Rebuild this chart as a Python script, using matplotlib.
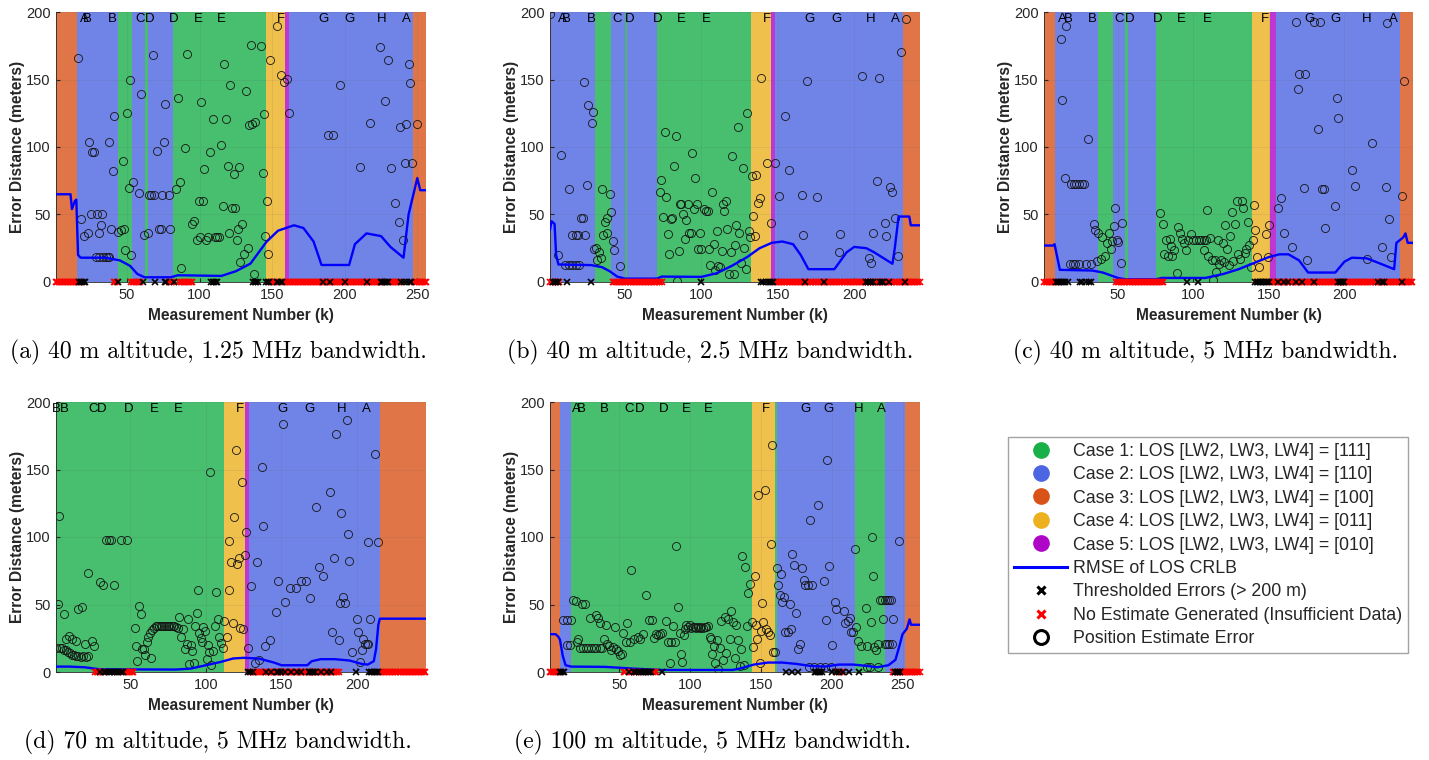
import matplotlib
matplotlib.use("Agg")
import matplotlib.pyplot as plt
from matplotlib.lines import Line2D

# ---------------------------------------------------------------- colours
CASE_COLORS = {1: "#19B04A", 2: "#4C65E2", 3: "#D95319", 4: "#EDB120", 5: "#AE05C7"}
CASE_LABELS = [
    "Case 1: LOS [LW2, LW3, LW4] = [111]",
    "Case 2: LOS [LW2, LW3, LW4] = [110]",
    "Case 3: LOS [LW2, LW3, LW4] = [100]",
    "Case 4: LOS [LW2, LW3, LW4] = [011]",
    "Case 5: LOS [LW2, LW3, LW4] = [010]",
]

# ---------------------------------------------------------------- panel (a)
A_XMAX = 256
A_CASES = [(0.5, 15.5, 3), (15.5, 43.7, 2), (43.7, 53.6, 1), (53.6, 62.6, 2), (62.6, 64.5, 1),
           (64.5, 81.5, 2), (81.5, 145.7, 1), (145.7, 158.8, 4), (158.8, 161.8, 5),
           (161.8, 247, 2), (247, 256, 3)]
A_LETTERS = [(20.4, "A"), (22.7, "B"), (40, "B"), (59, "C"), (65.9, "D"), (82, "D"), (99.3, "E"),
             (115, "E"), (156, "F"), (185.3, "G"), (203.4, "G"), (225.3, "H"), (242.3, "A")]
A_RMSE_X = [1, 11, 12, 14, 15, 16.2, 18, 35, 45, 52, 57, 62, 80, 85, 115, 125, 135, 146, 154,
            165, 171.5, 178.5, 184, 203, 207, 215, 225, 231.5, 240.5, 244, 250, 252, 256]
A_RMSE_Y = [65, 65, 54, 60, 61, 20, 18, 18, 16, 12, 6, 3.5, 3.5, 5, 4.5, 8, 13.6, 29.7, 38,
            42, 40, 30, 12.6, 12.6, 28, 36, 34, 26, 18, 50, 77, 68, 68]
A_POINTS = [(16, 166), (18.3, 47), (20.4, 34), (23.2, 36.4), (23.9, 104), (25.7, 96.5), (27.3, 96.5),
            (25, 50.5), (29, 50.5), (33, 50.5), (28.5, 18.3), (30.3, 36.4), (32, 42), (30.8, 18.3),
            (33.6, 18.3), (35.4, 18.3), (36.6, 18.3), (37.7, 18.3), (37.7, 104), (39, 39.6),
            (40, 82.4), (41.2, 123), (43.9, 37), (45.8, 38.4), (47.4, 89.6), (48.1, 39.6), (48.8, 24),
            (49.9, 125), (51, 69.8), (52.2, 150), (52.9, 19.8), (54.3, 74.3), (58, 66), (59.9, 139),
            (61.5, 35), (64.3, 36), (64.9, 64.4), (66.6, 64.4), (68.2, 64.4), (67.9, 168),
            (70.7, 97.3), (71.9, 38.9), (73.2, 38.9), (74.2, 64.4), (75.1, 103.7), (75.8, 132),
            (79.2, 64.4), (79.9, 38.9), (83.8, 68.6), (85.2, 136), (86.2, 74.3), (86.9, 10),
            (90, 99.5), (91.2, 169), (94.9, 42.8), (96, 45.3), (98.2, 31.4), (99.3, 60), (100, 33),
            (101, 133), (102.3, 60), (103, 84), (104.6, 31.4), (105.7, 33), (106.9, 96.5),
            (109.2, 120.8), (110.4, 33), (112, 33), (113.4, 33), (115, 101.5), (116.1, 56.2),
            (117.1, 161.4), (118.2, 120.5), (119.4, 86), (120.3, 36), (121.2, 146), (122.2, 54.5),
            (123.5, 79.7), (124.2, 54.5), (125.4, 31), (126.3, 39.4), (127.2, 85.4), (128.1, 14.6),
            (129.5, 43.3), (130.7, 21), (131.8, 141.6), (133, 25.2), (134.2, 116.3), (135.1, 175.7),
            (136, 117), (137.4, 6.2), (138.3, 118.8), (142.2, 174.5), (143.4, 80.4), (144.1, 124.3),
            (145, 34.2), (146.2, 60), (147.3, 20.5), (148.4, 164.6), (153.1, 190), (156.1, 153.2),
            (158.2, 148.3), (160.2, 150.5), (161.4, 125), (188.8, 109.2), (191.6, 109.2),
            (196.9, 146), (210.3, 85.4), (217.2, 118), (224.1, 174), (228, 134.4), (229.9, 164.6),
            (232.2, 84.6), (234.9, 58.7), (237.3, 44.6), (238.2, 114.9), (240.3, 31), (241.2, 88.4),
            (242.4, 117), (244.2, 161.6), (245.3, 147.3), (246.5, 88.4), (249.5, 117)]
A_BLACK = [17, 18, 19, 20, 21, 44, 61, 69, 76, 77, 82, 108, 109, 110, 111, 112, 137, 138, 139, 140,
           146, 147, 148, 153, 154, 156, 157, 185, 190, 200, 215, 225, 226, 227, 228, 229, 230,
           239, 241, 243, 245, 246]
A_RED = [(1, 17), (41, 43), (53, 59), (79, 81), (86, 90), (92, 95), (149, 152), (158, 226),
         (231, 238), (248, 256)]

# ---------------------------------------------------------------- panel (b)
B_XMAX = 243
B_CASES = [(0.5, 1.5, 3), (1.5, 30.6, 2), (30.6, 40.6, 1), (40.6, 50, 2), (50, 51.3, 1),
           (51.3, 70.7, 2), (70.7, 132.4, 1), (132.4, 145.7, 4), (145.7, 148.4, 5),
           (148.4, 231.7, 2), (231.7, 243, 3)]
B_LETTERS = [(9.2, "A"), (11.8, "B"), (28.2, "B"), (44.7, "C"), (53.2, "D"), (71.4, "D"), (87, "E"),
             (103, "E"), (142.7, "F"), (170.6, "G"), (188.7, "G"), (211, "H"), (227, "A")]
B_RMSE_X = [1, 2, 4, 5, 6.5, 28, 35, 40, 45, 50, 71, 74, 100, 110, 120, 130, 138, 146, 153, 160,
            165, 170, 187, 195, 200, 208, 213, 225, 226.5, 229, 236, 237, 243]
B_RMSE_Y = [39, 45, 43, 20, 13, 12.5, 11, 8, 4, 2.5, 2.5, 4, 3.8, 6.5, 12, 18.5, 25, 29, 30, 28,
            20, 9.5, 9.5, 22, 26, 25, 22, 13.5, 25, 48.5, 48.5, 42, 42]
B_POINTS = [(1.2, 198.5), (6.4, 19.9), (8.1, 94.4), (13.1, 69), (10.9, 12.9), (13.1, 12.9),
            (15.3, 12.9), (17.9, 12.9), (20.1, 12.9), (15.7, 34.8), (17.9, 34.8), (19.4, 34.8),
            (21.2, 47.2), (22.3, 47.2), (23.2, 148), (24, 34.8), (25.1, 72), (26, 131), (28.2, 117.8),
            (29.3, 126), (29.5, 24.8), (31, 25.3), (31.7, 16.6), (32.8, 21.9), (34.3, 17.9), (35, 69),
            (35.4, 34.8), (36.7, 44.7), (38.2, 36), (38.6, 47.2), (40.2, 65.3), (41.1, 51.9),
            (42.1, 30), (43, 23.4), (46.9, 11.9), (72.9, 66.3), (73.9, 75.3), (74.8, 48.2),
            (75.9, 111), (77, 62.6), (78.1, 35.5), (79, 21.1), (80, 46.7), (81.1, 47.5), (82, 85.7),
            (83.1, 107.8), (84, 0.7), (85.1, 23.1), (85.9, 57.9), (87, 57.9), (88.1, 50.7),
            (89.2, 31.8), (90.1, 46), (91, 57.9), (92.1, 36), (93, 36), (93.9, 95.2), (95, 53.9),
            (96, 77.3), (97, 57.9), (97.8, 24.1), (98.8, 36), (99.9, 24.1), (101.7, 53.9),
            (103.2, 52.7), (104.3, 52.7), (105.2, 24.8), (105.8, 12.4), (106.9, 66.3), (108, 27.8),
            (109.1, 8.7), (110.2, 37.8), (111, 12.2), (112.1, 11.2), (113.2, 22.6), (113.9, 57.9),
            (115, 52.7), (116.1, 60.1), (117, 39), (118, 5.7), (119.1, 22.4), (120, 93.4),
            (121.1, 5.7), (122, 27.3), (122.9, 42.2), (124, 114.8), (124.8, 36), (126, 14.2),
            (127, 84.5), (128.1, 25.3), (129.2, 9.7), (129.8, 125.5), (130.9, 37.8), (131.9, 33),
            (133.1, 78.3), (134, 49.2), (135.3, 34.3), (136, 79), (137, 58.6), (138.1, 62.1),
            (139, 151), (142.9, 88), (145.7, 44), (147.9, 88), (150.8, 63.6), (154.9, 123.2),
            (157.1, 82.7), (165.8, 64.3), (166.7, 34.8), (169.1, 148.8), (175.9, 63.1), (189.8, 21.9),
            (190.9, 35.3), (205.1, 152.3), (209.9, 18.1), (211.2, 14.4), (212.1, 36.5), (215, 74.5),
            (216, 151.3), (220, 43.5), (220.8, 34.3), (223.7, 70), (224.8, 66.3), (226.7, 47.2),
            (228.7, 19.1), (230.8, 170.2), (233.9, 194.5)]
B_BLACK = [3, 4, 5, 6, 12, 28, 100, 139, 140, 142, 144, 145, 146, 147, 168, 180, 208, 209, 210,
           211, 212, 217, 218, 219, 223, 233]
B_RED = [(1, 7), (42, 74), (148, 243)]

# ---------------------------------------------------------------- panel (c)
C_XMAX = 245.5
C_CASES = [(0.5, 8.2, 3), (8.2, 36.5, 2), (36.5, 46.5, 1), (46.5, 54.4, 2), (54.4, 56.7, 1),
           (56.7, 75.5, 2), (75.5, 138.6, 1), (138.6, 150.7, 4), (150.7, 154.7, 5),
           (154.7, 236.6, 2), (236.6, 245.5, 3)]
C_LETTERS = [(13.5, "A"), (16.8, "B"), (33, "B"), (51.1, "C"), (58, "D"), (76.1, "D"), (92, "E"),
             (108.9, "E"), (147.6, "F"), (176.8, "G"), (194.1, "G"), (214.9, "H"), (232.2, "A")]
C_RMSE_X = [1, 7, 8, 11.5, 33, 40, 45, 50, 55, 75, 79, 108, 120, 130, 140, 150, 157, 163, 170, 176,
            194, 200, 205, 215, 223, 233, 234.5, 239, 240.5, 242, 245.5]
C_RMSE_Y = [27, 27, 28, 9, 8.5, 7, 5, 3, 2, 2, 3, 3, 6, 9.5, 14, 18.5, 20.5, 20.5, 16, 7,
            7, 15, 18, 17.5, 14, 9.5, 29, 33, 36, 29, 29]
C_POINTS = [(12, 180), (13.1, 134.9), (14.8, 77.2), (15.9, 189.9), (18.6, 72.3), (20.8, 72.3),
            (22.4, 72.3), (24.1, 72.3), (25.9, 72.3), (27.4, 72.3), (18.1, 13.6), (20.1, 13.6),
            (21.7, 13.6), (24.1, 13.6), (28.6, 13.6), (32.3, 13.6), (29.9, 105.7), (33.9, 43.1),
            (34.8, 38.4), (35.9, 15.3), (37, 36.6), (38.5, 17.1), (39.6, 33.4), (41.4, 19.1),
            (42.5, 29.2), (44.3, 36.4), (45.2, 24.8), (45.8, 30.4), (47.4, 41.3), (48, 55),
            (49.4, 30.9), (50.2, 29.7), (51.8, 14.1), (52.9, 43.8), (77.9, 51.2), (79.9, 42.8),
            (80.4, 21), (82.1, 31.4), (83, 19.6), (84.3, 32.2), (85.2, 26.5), (86.1, 19.6),
            (87.4, 23.5), (88.8, 6.7), (89.6, 40.8), (90.9, 36.4), (92.3, 31.7), (93.8, 29),
            (95, 24), (96.7, 31.4), (98.7, 35.9), (99.8, 31.4), (101.6, 31.4), (103.4, 31.4),
            (105.1, 31.4), (106.9, 31.4), (108.2, 31.4), (106.7, 24), (108.9, 53.2), (109.8, 19.1),
            (110.9, 32.7), (112.2, 16.6), (113.1, 1.7), (114, 16.6), (114.9, 7.4), (116, 31.4),
            (117.1, 13.6), (118.4, 16.1), (119.3, 29), (120.4, 14.9), (121.1, 42.1), (122.2, 24.3),
            (123.3, 12.9), (124.4, 33.9), (125.5, 51.5), (126.4, 15.6), (127.5, 43.3), (128.6, 60.1),
            (129.5, 21), (130.6, 17.1), (131.9, 60.1), (132.8, 54.5), (133.9, 21.8), (134.8, 24.3),
            (136.1, 44.6), (137, 27.2), (138.1, 11.1), (139.2, 30.9), (140.1, 57.4), (141, 38.4),
            (142.1, 18.6), (143.2, 11.1), (148.1, 35.9), (150.3, 42.1), (149.2, 18.6), (156.3, 54.5),
            (158, 62.4), (160.2, 36.6), (165.1, 26), (168, 192.3), (169.1, 142.8), (170.2, 154),
            (173.1, 69.8), (174.2, 154), (175.1, 16.1), (179.7, 192.3), (182.4, 113.4),
            (183.9, 192.3), (185, 69.1), (186.4, 69.1), (187.2, 40.1), (193.9, 56.2), (195, 136.6),
            (196.1, 121.8), (205.2, 82.9), (207.2, 71), (214.9, 17.1), (218.2, 103.2), (225.1, 25.7),
            (227.3, 70.5), (228.2, 191.8), (229.3, 46.3), (231.1, 18.3), (238.2, 63.6), (239.3, 149)]
C_BLACK = [9, 10, 11, 12, 13, 14, 15, 17, 25, 26, 29, 31, 32, 96, 103, 141, 142, 143, 144, 145, 146,
           147, 148, 149, 150, 156, 160, 163, 168, 172, 180, 196, 197, 198, 199, 200, 222, 225, 226,
           238]
C_RED = [(1, 9), (49, 80), (151, 245)]

# ---------------------------------------------------------------- panel (d)
D_XMAX = 245.5
D_CASES = [(0.5, 112.3, 1), (112.3, 125.6, 4), (125.6, 128.5, 5), (128.5, 215.4, 2),
           (215.4, 245.5, 3)]
D_LETTERS = [(1.1, "B"), (6.5, "B"), (25.7, "C"), (31.5, "D"), (48.9, "D"), (65.9, "E"),
             (82.1, "E"), (122.7, "F"), (150.8, "G"), (168.3, "G"), (190.1, "H"), (206.3, "A")]
D_RMSE_X = [1, 10, 20, 30, 80, 90, 100, 110, 118, 125, 135, 145, 150, 167, 170, 176, 185, 195, 203,
            207, 211, 212.5, 214, 215, 245.5]
D_RMSE_Y = [4, 4, 3.5, 2, 1.8, 2.5, 5, 7.5, 10, 10.5, 10, 7, 5, 5, 8, 9.5, 9.5, 8.5, 6,
            5.5, 8, 17, 35, 39.5, 39.5]
D_POINTS = [(0.7, 18.1), (2, 50.7), (2.9, 115.8), (3.6, 17.8), (5.2, 17.8), (6.5, 16.6), (7.8, 16.1),
            (9, 14.9), (10, 14.1), (11.4, 12.9), (12.9, 12.4), (14.4, 11.9), (15.8, 11.6),
            (17.5, 11.4), (19.1, 11.6), (21, 11.1), (22.4, 11.6), (6.3, 42.6), (7.3, 24.8),
            (9.5, 26.7), (11.4, 24.8), (14, 22.8), (15.8, 46.3), (17.9, 47.8), (20.2, 21), (22, 73.5),
            (25, 22.8), (26.1, 19.1), (29.9, 66.6), (32.1, 64.6), (34.3, 97.5), (36.1, 97.5),
            (37.6, 97.5), (39, 64.6), (43.8, 97.5), (48.2, 97.5), (52.9, 32.7), (53.8, 19.1),
            (54.7, 8.2), (55.8, 48.8), (56.9, 43.3), (58.1, 17.3), (59.2, 17.3), (59.9, 12.4),
            (61, 22.3), (62.1, 26), (63.2, 29), (63.8, 10.4), (64.7, 31), (65.8, 32.7), (66.9, 34),
            (68, 34), (69.1, 34), (70.2, 34), (71.3, 34), (72.4, 34), (73.5, 34), (74.7, 34),
            (75.8, 34), (76.9, 34), (78, 34), (79.1, 34), (80.2, 33.2), (81.3, 32.5), (82.5, 40.8),
            (83.8, 26), (85.2, 31.7), (86.5, 17.3), (87.4, 21), (88.1, 39.6), (89.2, 5.7),
            (90.2, 19.8), (90.9, 15.6), (92, 6.7), (92.9, 33.9), (94, 43.8), (95.1, 61.1),
            (95.8, 29.2), (96.8, 25.5), (97.5, 22.3), (98.4, 33.4), (99.7, 30.4), (100.6, 9.7),
            (101.3, 19.8), (101.9, 14.9), (102.8, 148), (103.7, 5), (105, 15.3), (105.9, 34.2),
            (106.8, 59.4), (107.9, 39.6), (109, 26), (110.1, 21.5), (111.2, 18.1), (112.3, 37.6),
            (113.9, 26), (115, 97.3), (115.6, 61.1), (116.5, 81.7), (117.9, 36.4), (118.7, 114.6),
            (119.8, 164.1), (120.9, 79.7), (121.8, 84.7), (122.7, 32.9), (123.6, 140.6), (124.7, 31.7),
            (125.8, 86.4), (126.7, 104), (127.8, 17.8), (130, 63.6), (132.4, 6.7), (133.8, 81.7),
            (135.1, 8.7), (137.1, 152.2), (137.8, 108.4), (138.9, 19.3), (142.6, 23.5), (146.6, 44.6),
            (148, 67.3), (150.8, 183.4), (152.6, 51.5), (155.9, 62.4), (159.9, 62.4), (162.8, 67.3),
            (165.9, 67.3), (168.7, 55), (172.7, 122.5), (175, 78), (177.6, 71), (182, 133.4),
            (183.5, 29.7), (184.8, 84.2), (185.9, 176.2), (187.9, 23.5), (189.5, 118), (188.8, 51.2),
            (190.8, 55.2), (192.3, 51.2), (193, 186.4), (193.7, 102.2), (194.8, 82.4), (196.3, 14.9),
            (199.6, 39.6), (200.8, 29.7), (201.9, 7.4), (203, 16.1), (204.1, 24.8), (205.2, 21),
            (206.3, 21), (207.4, 21), (207.4, 96.5), (208.5, 39.6), (211.8, 161.6), (213.6, 96.5)]
D_BLACK = [30, 33, 34, 36, 37, 38, 39, 40, 41, 42, 44, 45, 128, 129, 131, 140, 143, 147, 148, 150,
           152, 156, 160, 163, 168, 169, 170, 171, 172, 176, 180, 183, 199, 208, 209, 210, 211, 212,
           213, 214]
D_RED = [(27, 32), (46, 52), (130, 136), (138, 188), (215, 245)]

# ---------------------------------------------------------------- panel (e)
E_XMAX = 262
E_CASES = [(0.5, 7.8, 3), (7.8, 16, 2), (16, 143.8, 1), (143.8, 159.6, 4), (159.6, 161.3, 1),
           (161.3, 216.1, 2), (216.1, 237.8, 1), (237.8, 251.9, 2), (251.9, 262, 3)]
E_LETTERS = [(20, "A"), (23.1, "B"), (39.1, "B"), (57.2, "C"), (64.3, "D"), (81.2, "D"), (97.2, "E"),
             (113, "E"), (153.2, "F"), (181.3, "G"), (198, "G"), (219.2, "H"), (235.4, "A")]
E_RMSE_X = [1, 5, 7, 8, 10, 12, 16, 40, 60, 80, 130, 135, 145, 155, 165, 175, 185, 195, 205, 215,
            225, 232, 240, 245, 248, 250, 253, 255, 256, 262]
E_RMSE_Y = [28, 28, 26, 24, 12, 5, 4, 3.8, 2.5, 1.5, 1.5, 2.5, 5.5, 7, 7, 6, 4.5, 4, 5.5, 5.5,
            4.5, 3.5, 5, 9, 20, 28, 32, 39, 35, 35]
E_POINTS = [(10.1, 38.5), (12.9, 38.5), (15.8, 38.5), (12.9, 19.9), (14.8, 19.9), (17.2, 53.4),
            (19.1, 52.9), (20, 21.9), (20.7, 24.8), (22.4, 18.1), (24.2, 18.1), (26.1, 18.1),
            (27.8, 18.1), (29.7, 18.1), (31.8, 18.1), (33.7, 18.1), (36, 18.1), (37.9, 18.1),
            (23.5, 50.7), (25.9, 50.7), (29.4, 39.8), (33.2, 42.2), (34.8, 39.8), (36.5, 36.5),
            (39.1, 24.1), (40.3, 34.8), (41.2, 21.1), (42.6, 19.1), (44, 16.6), (45.4, 18.6),
            (46.6, 33.5), (47.8, 17.4), (49, 15.4), (50.1, 12.9), (51.6, 13.2), (52.5, 28.6),
            (54.4, 22.4), (55.3, 36), (57.2, 22.4), (58.4, 75.8), (60, 24.8), (63.1, 25.6),
            (64.7, 24.8), (66.6, 27.8), (68.5, 57.1), (70.9, 38.5), (73.2, 38.5), (74.2, 25.3),
            (75.6, 27.8), (77.2, 27.3), (78.4, 27.8), (80.3, 28.6), (83.1, 37.8), (84.3, 22.4),
            (85.5, 6.7), (86.6, 22.4), (87.8, 34), (89, 21.9), (90.2, 93.7), (91.3, 48.4),
            (92.5, 28.6), (93.2, 13.7), (94.2, 7.5), (95.3, 27.3), (96.3, 31.6), (97.2, 34.8),
            (98.4, 33), (99.6, 34.8), (100.8, 32.3), (101.9, 33.5), (103.1, 33), (104.3, 32.3),
            (105.5, 33), (106.7, 32.3), (107.8, 33), (109, 32.3), (110.2, 33.5), (111.4, 33),
            (112.5, 34), (113.7, 26.1), (114.9, 24.3), (115.6, 13.7), (116.5, 19.1), (117.7, 6.7),
            (118.9, 23.6), (119.8, 2.5), (120.8, 17.9), (122, 38), (123.1, 9.2), (124.3, 40.5),
            (125.5, 14.2), (126.6, 39), (127.8, 24.8), (129, 45.2), (130.2, 37.3), (131.4, 10.4),
            (132.5, 34.8), (133.7, 23.6), (134.9, 4.2), (136.1, 17.4), (136.8, 86.2), (137.7, 5.5),
            (138.7, 77.8), (140.1, 34), (140.8, 58.4), (142, 65.3), (143.4, 36.8), (144.3, 18.6),
            (145.5, 70.8), (146.7, 34.8), (147.4, 24.8), (148.1, 131.2), (149, 6.7), (149.7, 30.6),
            (150.9, 51.4), (151.8, 36.8), (152.8, 134.7), (153.7, 31.6), (154.9, 29.8), (156.1, 27.3),
            (156.8, 94.9), (157.5, 168.2), (158.4, 14.9), (160.1, 14.9), (161.3, 77), (162.4, 64.1),
            (163.4, 57.1), (164.3, 72.8), (165, 51.7), (166.4, 55.4), (167.1, 29.3), (169, 29.8),
            (170.2, 50.4), (171.4, 31.6), (172.1, 87.5), (173.3, 79), (174.9, 43.5), (176.1, 17.4),
            (177.3, 20.4), (178.9, 77), (180.1, 68.3), (181.3, 64.6), (183.1, 64.6), (185, 112.3),
            (186.2, 64.6), (190.2, 123.7), (194.2, 67.1), (196.1, 38.5), (197, 157), (198.2, 78.8),
            (200.1, 19.9), (202, 51.9), (203.2, 46.7), (209, 45.2), (209.7, 36.5), (211.4, 37.8),
            (212.6, 40.2), (213.7, 29.8), (214.9, 29.3), (216.1, 91.2), (217.3, 33), (218.5, 23.1),
            (220.8, 19.4), (223.9, 47.7), (225, 19.4), (227.4, 36.8), (228.3, 99.9), (229, 70.8),
            (230.2, 18.6), (231.4, 16.6), (232.6, 21.1), (234.2, 53.4), (235.6, 53.4), (237.3, 53.4),
            (239.2, 53.4), (240.8, 53.4), (242, 53.4), (236.5, 39.3), (237.3, 20.4), (239.2, 20.4),
            (240.8, 20.4), (242.5, 20.4), (243.2, 39.3), (247.2, 97.4), (183.9, 4), (187.8, 4),
            (191.4, 4), (195, 4), (199.5, 4), (225, 4), (227, 4), (233, 4)]
E_BLACK = [8, 9, 10, 11, 57, 60, 62, 64, 65, 67, 68, 69, 70, 71, 72, 80, 168, 172, 176, 188, 189,
           190, 191, 192, 193, 200, 203, 205, 208, 212, 219, 245, 246, 247, 248]
E_RED = [(1, 8), (53, 54), (58, 61), (66, 67), (74, 76), (204, 207), (243, 262)]

CAPTIONS = [
    "(a) 40 m altitude, 1.25 MHz bandwidth.",
    "(b) 40 m altitude, 2.5 MHz bandwidth.",
    "(c) 40 m altitude, 5 MHz bandwidth.",
    "(d) 70 m altitude, 5 MHz bandwidth.",
    "(e) 100 m altitude, 5 MHz bandwidth.",
]

plt.rcParams["font.family"] = ["Liberation Sans", "DejaVu Sans"]
TXT = "#262626"


def draw_panel(ax, xmax, cases, letters, rmse_x, rmse_y, points, black, red_spans, xticks):
    for x0, x1, case in cases:
        ax.axvspan(x0, x1, color=CASE_COLORS[case], alpha=0.8, lw=0, zorder=0)
    for x, letter in letters:
        ax.text(x, 195, letter, ha="center", va="center", fontsize=9.5, color="black", zorder=3)
    px = [p[0] for p in points]
    py = [p[1] for p in points]
    ax.plot(px, py, "o", ms=5.8, mfc="none", mec="#141414", mew=0.6, zorder=2)
    ax.plot(rmse_x, rmse_y, color="#0000FF", lw=1.7, zorder=4)
    red = [k for s, e in red_spans for k in range(s, e + 1)]
    ax.plot(red, [0] * len(red), "x", color="#FF0000", ms=5, mew=1.2, zorder=5, clip_on=False)
    ax.plot(black, [0] * len(black), "x", color="black", ms=5, mew=1.2, zorder=6, clip_on=False)

    ax.set_xlim(1, xmax)
    ax.set_ylim(0, 200)
    ax.set_xticks(xticks)
    ax.set_yticks([0, 50, 100, 150, 200])
    ax.tick_params(direction="in", length=3, labelsize=10.5, colors=TXT, pad=4)
    ax.grid(True, color="#5a5a5a", alpha=0.12, lw=0.6, zorder=1)
    ax.set_axisbelow(False)
    for side in ("top", "right"):
        ax.spines[side].set_visible(False)
    for side in ("left", "bottom"):
        ax.spines[side].set_color(TXT)
        ax.spines[side].set_linewidth(0.6)
    ax.set_xlabel("Measurement Number (k)", fontsize=11.2, fontweight="bold", color=TXT)
    ax.set_ylabel("Error Distance (meters)", fontsize=11.2, fontweight="bold", color=TXT)
    ax.xaxis.set_label_coords(0.5, -0.098)
    ax.yaxis.set_label_coords(-0.083, 0.5)


fig = plt.figure(figsize=(14.29, 7.6), dpi=100)

W, H = 1429.0, 760.0
rects = [
    (56, 12, 370, 270), (550, 12, 370, 270), (1044, 12, 369, 270),
    (56, 402, 370, 270), (550, 402, 369.5, 270),
]
axes = [fig.add_axes([l / W, 1 - (t + h) / H, w / W, h / H]) for l, t, w, h in rects]

draw_panel(axes[0], A_XMAX, A_CASES, A_LETTERS, A_RMSE_X, A_RMSE_Y, A_POINTS, A_BLACK, A_RED,
           [50, 100, 150, 200, 250])
draw_panel(axes[1], B_XMAX, B_CASES, B_LETTERS, B_RMSE_X, B_RMSE_Y, B_POINTS, B_BLACK, B_RED,
           [50, 100, 150, 200])
draw_panel(axes[2], C_XMAX, C_CASES, C_LETTERS, C_RMSE_X, C_RMSE_Y, C_POINTS, C_BLACK, C_RED,
           [50, 100, 150, 200])
draw_panel(axes[3], D_XMAX, D_CASES, D_LETTERS, D_RMSE_X, D_RMSE_Y, D_POINTS, D_BLACK, D_RED,
           [50, 100, 150, 200])
draw_panel(axes[4], E_XMAX, E_CASES, E_LETTERS, E_RMSE_X, E_RMSE_Y, E_POINTS, E_BLACK, E_RED,
           [50, 100, 150, 200, 250])

# captions (LaTeX-like serif)
caption_pos = [(218, 352), (710, 352), (1206, 352), (218, 742), (712, 742)]
for (cx, cy), cap in zip(caption_pos, CAPTIONS):
    fig.text(cx / W, 1 - cy / H, cap, ha="center", va="center", fontsize=17.1,
             family=["cmr10", "DejaVu Serif"], color="black")

# legend
handles = [Line2D([], [], ls="none", marker="o", ms=11, mfc=CASE_COLORS[i + 1],
                  mec=CASE_COLORS[i + 1], label=CASE_LABELS[i]) for i in range(5)]
handles.append(Line2D([], [], color="#0000FF", lw=2.2, label="RMSE of LOS CRLB"))
handles.append(Line2D([], [], ls="none", marker="x", color="black", ms=5.5, mew=2.2,
                      label="Thresholded Errors (> 200 m)"))
handles.append(Line2D([], [], ls="none", marker="x", color="#FF0000", ms=5.5, mew=2.2,
                      label="No Estimate Generated (Insufficient Data)"))
handles.append(Line2D([], [], ls="none", marker="o", ms=10, mfc="none", mec="black", mew=2.2,
                      label="Position Estimate Error"))
leg = fig.legend(handles=handles, loc="upper left", bbox_to_anchor=(1007.7 / W, 1 - 436.7 / H),
                 fontsize=12.8, frameon=True, fancybox=False, edgecolor="#8c8c8c",
                 handlelength=3.0, handletextpad=0.3, labelspacing=0.36, borderpad=0.35,
                 borderaxespad=0)
leg.get_frame().set_linewidth(1.0)
for t in leg.get_texts():
    t.set_color(TXT)

fig.savefig("out.png", dpi=100)
